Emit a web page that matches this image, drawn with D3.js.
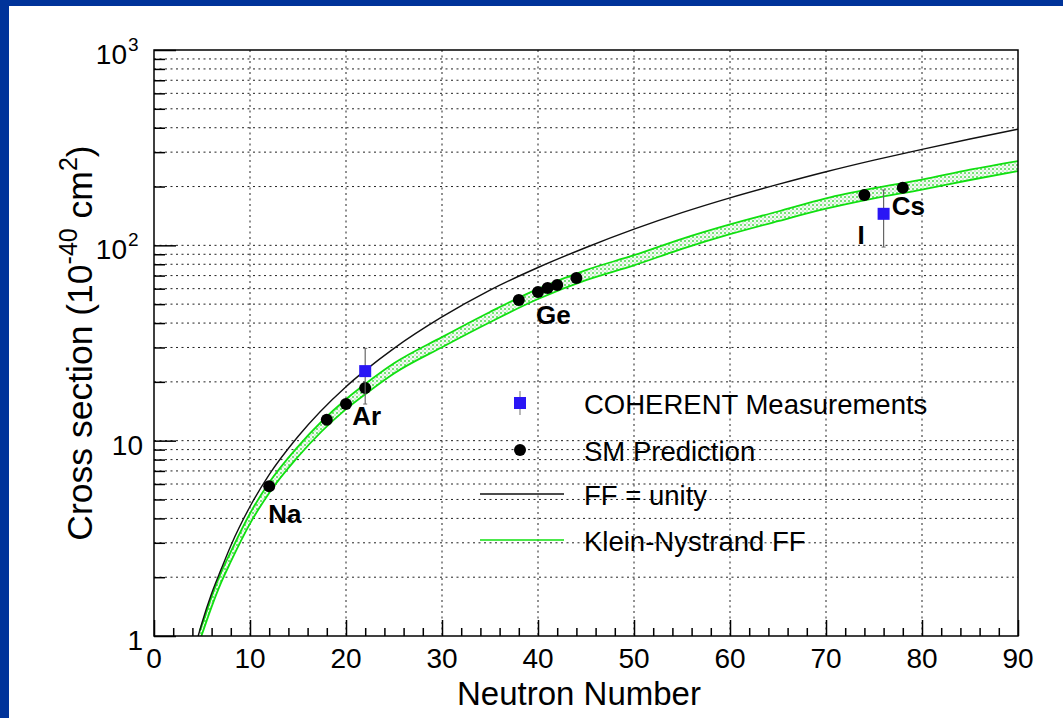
<!DOCTYPE html>
<html>
<head>
<meta charset="utf-8">
<script src="https://cdn.jsdelivr.net/npm/d3@7"></script>
<style>
  html, body { margin: 0; padding: 0; background: #fff; }
  svg text { font-family: "Liberation Sans", Arial, Helvetica, sans-serif; fill: #000; }
</style>
</head>
<body>
<script>
// 曲線のデータ
var curveN      = [4.6, 5, 6, 7, 8, 10, 12, 15, 20, 22, 25, 30, 35, 40, 45, 50, 55, 60, 65, 70, 75, 80, 85, 90];
var ffUnity     = [1.0, 1.17, 1.65, 2.2, 2.9, 4.6, 6.7, 10.5, 18.9, 22.9, 29.7, 43, 59, 77, 97.5, 121, 147, 175, 205, 238, 273, 310, 350, 393];
var kleinN      = [4.75, 5, 6, 7, 8, 10, 12, 15, 20, 22, 25, 30, 35, 40, 45, 50, 55, 60, 65, 70, 75, 80, 85, 90];
var kleinCenter = [1.0, 1.08, 1.5, 2.0, 2.55, 4.0, 5.75, 8.8, 15.4, 18.4, 23.5, 32, 43, 56.5, 70.5, 84, 102, 121, 141, 164, 185, 205, 230, 255];
var kleinLow    = [0.94, 1.02, 1.41, 1.88, 2.4, 3.76, 5.4, 8.27, 14.5, 17.3, 22.1, 30.1, 40.4, 53.1, 66.3, 79, 95.9, 114, 133, 154, 174, 193, 216, 240];
var kleinHigh   = [1.06, 1.14, 1.59, 2.12, 2.7, 4.24, 6.1, 9.33, 16.3, 19.5, 24.9, 33.9, 45.6, 59.9, 74.7, 89, 108, 128, 149, 174, 196, 217, 244, 270];

// SM予測の点
var smN     = [12, 18, 20, 22, 38, 40, 41, 42, 44, 74, 78];
var smSigma = [5.85, 12.8, 15.4, 18.6, 52.5, 57.7, 60.4, 62.7, 68, 181, 197];

// COHERENTの測定値
var measN     = [22, 76];
var measSigma = [22.7, 145];
var measHigh  = [29.7, 192];
var measLow   = [15.4, 98];

// 原子核ラベル
var nucleusNames = ["Na", "Ar", "Ge", "I", "Cs"];
var nucleusN     = [12, 22, 40, 74, 78];

// 軸の目盛り
var xMajor = [0, 10, 20, 30, 40, 50, 60, 70, 80, 90];
var yMajor = [1, 10, 100, 1000];
var yMajorBase = ["1", "10", "10", "10"];
var yMajorExp  = ["", "", "2", "3"];

var legendLabels = ["COHERENT Measurements", "SM Prediction", "FF = unity", "Klein-Nystrand FF"];

// 描画領域（topはwindow.topと衝突するので別名）
var W = 1063, H = 718;
var pLeft = 154, pRight = 1018, pTop = 50, pBottom = 636;

var svg = d3.select("body").append("svg")
	.attr("width", W)
	.attr("height", H);

// 青い枠
svg.append("rect").attr("x", 0).attr("y", 0).attr("width", W).attr("height", H).attr("fill", "#00339a");
svg.append("rect").attr("x", 9).attr("y", 6).attr("width", W - 9).attr("height", H - 6).attr("fill", "#fff");

var x = d3.scaleLinear().domain([0, 90]).range([pLeft, pRight]);
var y = d3.scaleLog().domain([1, 1000]).range([pBottom, pTop]);

// 縦横のグリッド
var yGrid = [];
for (var k = 0; k < 3; k++) {
	for (var m = 1; m <= 9; m++) {
		yGrid.push(m * Math.pow(10, k));
	}
}
var grid = svg.append("g").attr("stroke", "#222").attr("stroke-width", 1).attr("stroke-dasharray", "2,3.5");
grid.selectAll(".hg").data(yGrid.filter(function(v){ return v > 1; }))
	.enter().append("line")
	.attr("x1", pLeft).attr("x2", pRight)
	.attr("y1", function(d){ return y(d); }).attr("y2", function(d){ return y(d); });
grid.selectAll(".vg").data(xMajor.filter(function(v){ return v > 0 && v < 90; }))
	.enter().append("line")
	.attr("y1", pTop).attr("y2", pBottom)
	.attr("x1", function(d){ return x(d); }).attr("x2", function(d){ return x(d); });

var plot = svg.append("g");

// Klein-Nystrandのバンド（ハッチ風の塗り）
var defs = svg.append("defs");
var pat = defs.append("pattern").attr("id", "hatch").attr("patternUnits", "userSpaceOnUse")
	.attr("width", 4).attr("height", 4);
pat.append("rect").attr("width", 4).attr("height", 4).attr("fill", "#f2fdf2");
pat.append("circle").attr("cx", 1).attr("cy", 1).attr("r", 1).attr("fill", "#4fd84f");
pat.append("circle").attr("cx", 3).attr("cy", 3).attr("r", 0.7).attr("fill", "#a6b8a6");

var band = d3.area()
	.x(function(d, i){ return x(kleinN[i]); })
	.y0(function(d, i){ return y(kleinLow[i]); })
	.y1(function(d, i){ return y(kleinHigh[i]); })
	.curve(d3.curveMonotoneX);
var clip = defs.append("clipPath").attr("id", "plotclip");
clip.append("rect").attr("x", pLeft).attr("y", pTop).attr("width", pRight - pLeft).attr("height", pBottom - pTop);

var curves = plot.append("g").attr("clip-path", "url(#plotclip)");
curves.append("path").datum(kleinN).attr("d", band).attr("fill", "url(#hatch)");

var lineLow = d3.line().x(function(d, i){ return x(kleinN[i]); }).y(function(d, i){ return y(kleinLow[i]); }).curve(d3.curveMonotoneX);
var lineHigh = d3.line().x(function(d, i){ return x(kleinN[i]); }).y(function(d, i){ return y(kleinHigh[i]); }).curve(d3.curveMonotoneX);
curves.append("path").datum(kleinN).attr("d", lineLow).attr("fill", "none").attr("stroke", "#10e010").attr("stroke-width", 1.8);
curves.append("path").datum(kleinN).attr("d", lineHigh).attr("fill", "none").attr("stroke", "#10e010").attr("stroke-width", 1.8);

// FF = unity
var lineFF = d3.line().x(function(d, i){ return x(curveN[i]); }).y(function(d, i){ return y(ffUnity[i]); }).curve(d3.curveMonotoneX);
curves.append("path").datum(curveN).attr("d", lineFF).attr("fill", "none").attr("stroke", "#111").attr("stroke-width", 1.4);

// SM予測の点
plot.selectAll(".sm").data(smN).enter().append("circle")
	.attr("cx", function(d){ return x(d); })
	.attr("cy", function(d, i){ return y(smSigma[i]); })
	.attr("r", 6)
	.attr("fill", "#000");

// 測定値（誤差棒＋青い四角）
plot.selectAll(".err").data(measN).enter().append("line")
	.attr("x1", function(d){ return x(d); }).attr("x2", function(d){ return x(d); })
	.attr("y1", function(d, i){ return y(measHigh[i]); })
	.attr("y2", function(d, i){ return y(measLow[i]); })
	.attr("stroke", "#666").attr("stroke-width", 1.2);
plot.selectAll(".errcap").data(measN).enter().append("g").each(function(d, i){
	var g = d3.select(this);
	[measHigh[i], measLow[i]].forEach(function(v){
		g.append("line").attr("x1", x(d) - 2).attr("x2", x(d) + 2)
			.attr("y1", y(v)).attr("y2", y(v)).attr("stroke", "#666").attr("stroke-width", 1);
	});
});
plot.selectAll(".meas").data(measN).enter().append("rect")
	.attr("x", function(d){ return x(d) - 6; })
	.attr("y", function(d, i){ return y(measSigma[i]) - 6; })
	.attr("width", 12).attr("height", 12)
	.attr("fill", "#2a16f5");

// 原子核のラベル（位置は点からのずらし量）
var labelOffset = {Na: [-1, 37], Ar: [-13, 37], Ge: [-2, 32], I: [-7, 49], Cs: [-11, 27]};
plot.selectAll(".nuc").data(nucleusNames).enter().append("text")
	.attr("x", function(d, i){ return x(nucleusN[i]) + labelOffset[d][0]; })
	.attr("y", function(d, i){ return y(smSigma[smN.indexOf(nucleusN[i])]) + labelOffset[d][1]; })
	.attr("font-size", 26).attr("font-weight", "bold")
	.text(function(d){ return d; });

// 軸（ROOT風に目盛りは内向き）
var xMinor = d3.range(0, 91, 2).filter(function(v){ return v % 10 !== 0; });
svg.append("g").attr("transform", "translate(0," + pBottom + ")")
	.call(d3.axisBottom(x).tickValues(xMinor).tickSize(-8).tickFormat(""))
	.call(function(g){ g.select(".domain").remove(); })
	.selectAll("line").attr("stroke-width", 1.5);
svg.append("g").attr("transform", "translate(0," + pBottom + ")")
	.call(d3.axisBottom(x).tickValues(xMajor).tickSize(-16).tickFormat(""))
	.call(function(g){ g.select(".domain").remove(); })
	.selectAll("line").attr("stroke-width", 1.5);

var yMinor = yGrid.filter(function(v){ return yMajor.indexOf(v) < 0; });
svg.append("g").attr("transform", "translate(" + pLeft + ",0)")
	.call(d3.axisLeft(y).tickValues(yMinor).tickSize(-11).tickFormat(""))
	.call(function(g){ g.select(".domain").remove(); })
	.selectAll("line").attr("stroke-width", 1.5);
svg.append("g").attr("transform", "translate(" + pLeft + ",0)")
	.call(d3.axisLeft(y).tickValues(yMajor).tickSize(-22).tickFormat(""))
	.call(function(g){ g.select(".domain").remove(); })
	.selectAll("line").attr("stroke-width", 1.5);

// 枠
svg.append("rect").attr("x", pLeft).attr("y", pTop).attr("width", pRight - pLeft).attr("height", pBottom - pTop)
	.attr("fill", "none").attr("stroke", "#000").attr("stroke-width", 1.5);

// x軸の目盛りラベル
svg.append("g").selectAll("text").data(xMajor).enter().append("text")
	.attr("x", function(d){ return x(d); })
	.attr("y", 668)
	.attr("text-anchor", "middle")
	.attr("font-size", 28)
	.text(function(d){ return d; });

// y軸の目盛りラベル（上付きは別のtextで置く）
var ylab = svg.append("g");
yMajor.forEach(function(v, i){
	var hasExp = yMajorExp[i] !== "";
	ylab.append("text")
		.attr("x", hasExp ? 127 : 143)
		.attr("y", y(v) + 14)
		.attr("text-anchor", "end")
		.attr("font-size", 28)
		.text(yMajorBase[i]);
	if (hasExp) {
		ylab.append("text")
			.attr("x", 128)
			.attr("y", y(v) + 1)
			.attr("font-size", 19)
			.text(yMajorExp[i]);
	}
});

// 軸タイトル
svg.append("text")
	.attr("x", 579).attr("y", 705)
	.attr("text-anchor", "middle")
	.attr("font-size", 33)
	.text("Neutron Number");

var yt = svg.append("text")
	.attr("transform", "translate(92,343) rotate(-90)")
	.attr("text-anchor", "middle")
	.attr("font-size", 35.5);
yt.append("tspan").text("Cross section (10");
yt.append("tspan").attr("dy", -15).attr("font-size", 25).text("-40");
yt.append("tspan").attr("dy", 15).text(" cm");
yt.append("tspan").attr("dy", -15).attr("font-size", 25).text("2");
yt.append("tspan").attr("dy", 15).text(")");

// 凡例
var legY = [403, 450, 494, 540];
var leg = svg.append("g");
leg.append("line").attr("x1", 520).attr("x2", 520).attr("y1", legY[0] - 12).attr("y2", legY[0] + 12)
	.attr("stroke", "#888").attr("stroke-width", 1.2);
leg.append("rect").attr("x", 514).attr("y", legY[0] - 6).attr("width", 12).attr("height", 12).attr("fill", "#2a16f5");
leg.append("circle").attr("cx", 520).attr("cy", legY[1]).attr("r", 6).attr("fill", "#000");
leg.append("line").attr("x1", 480).attr("x2", 564).attr("y1", legY[2]).attr("y2", legY[2])
	.attr("stroke", "#111").attr("stroke-width", 1.4);
leg.append("line").attr("x1", 480).attr("x2", 564).attr("y1", legY[3]).attr("y2", legY[3])
	.attr("stroke", "#10e010").attr("stroke-width", 1.5);
leg.selectAll("text").data(legendLabels).enter().append("text")
	.attr("x", 584)
	.attr("y", function(d, i){ return legY[i] + 11; })
	.attr("font-size", 27.5)
	.text(function(d){ return d; });
</script>
</body>
</html>
